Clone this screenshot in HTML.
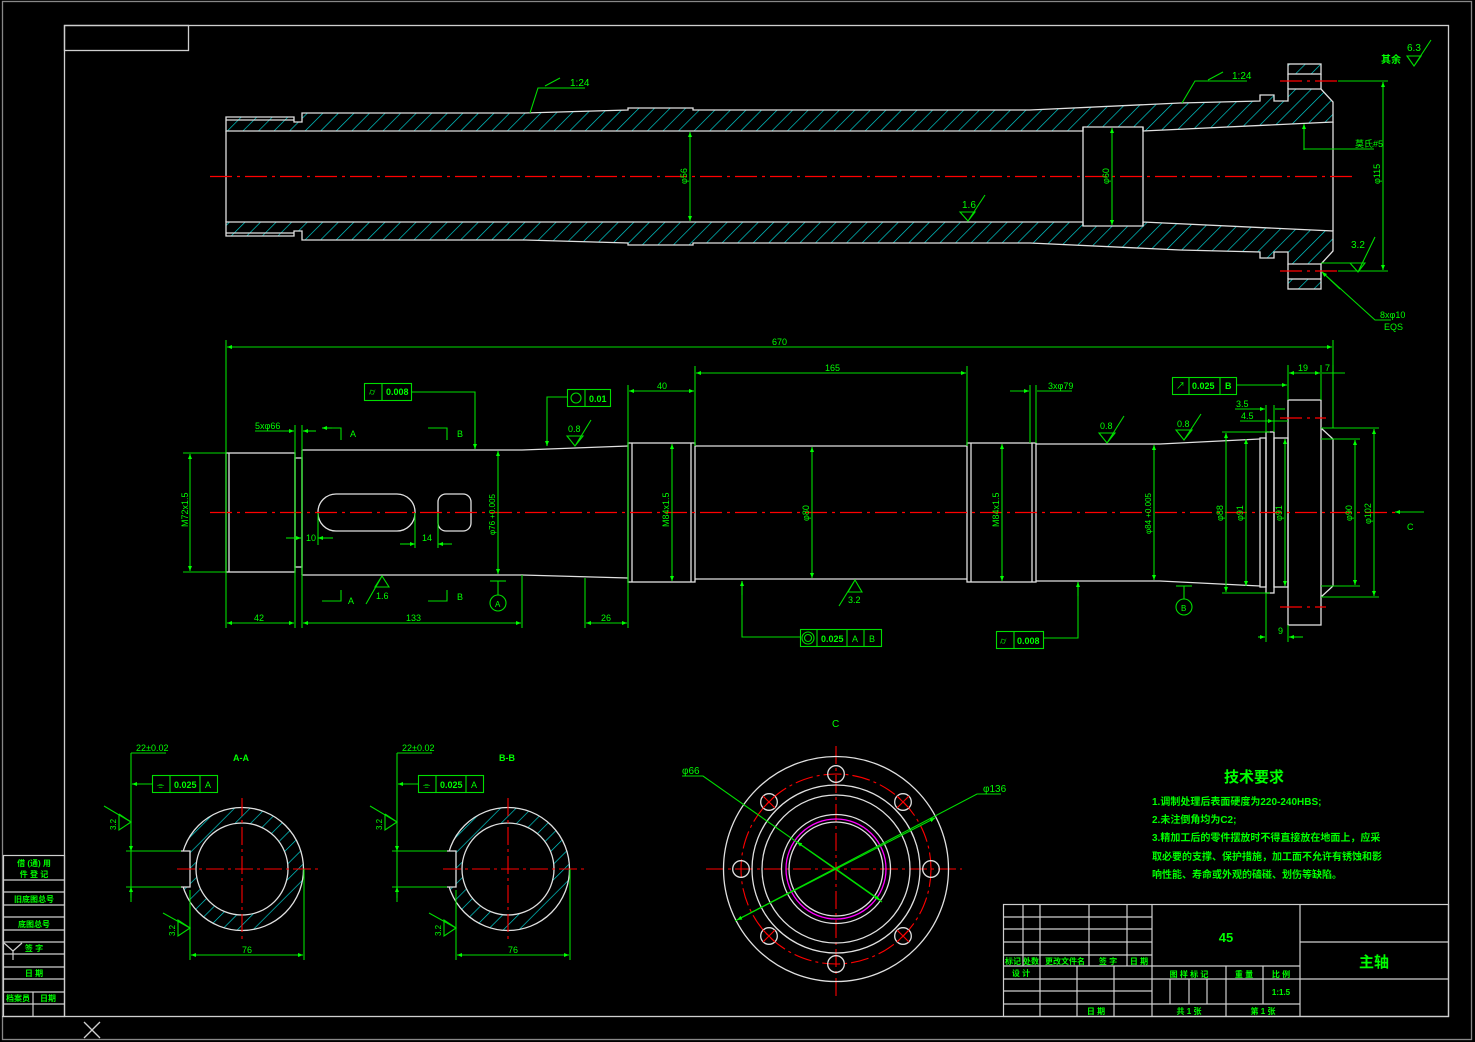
<!DOCTYPE html>
<html><head><meta charset="utf-8"><style>
html,body{margin:0;padding:0;background:#000;}
svg{display:block;}
text{font-family:"Liberation Sans","Noto Sans CJK SC",sans-serif;fill:#00ff00;}
</style></head><body>
<svg width="1475" height="1042" viewBox="0 0 1475 1042" xmlns="http://www.w3.org/2000/svg">
<defs>
<pattern id="h" patternUnits="userSpaceOnUse" width="11" height="11" patternTransform="rotate(45)">
<line x1="0" y1="0" x2="0" y2="11" stroke="#00d8d8" stroke-width="1.3"/>
</pattern>
<marker id="a" viewBox="0 0 10 10" refX="10" refY="5" markerWidth="9" markerHeight="5" orient="auto-start-reverse" markerUnits="userSpaceOnUse">
<path d="M0,1 L10,5 L0,9 z" fill="#00ff00"/></marker>
</defs>
<rect width="1475" height="1042" fill="#000"/>
<!-- frames -->
<g fill="none" stroke="#cfcfcf" stroke-width="1.3">
<rect x="2.5" y="1.5" width="1469" height="1038" stroke="#888"/>
<rect x="64.5" y="25.5" width="1384" height="991"/>
<rect x="64.5" y="25.5" width="124" height="25"/>
<line x1="2" y1="1016.5" x2="64" y2="1016.5"/>
<line x1="84" y1="1022" x2="100" y2="1038"/><line x1="100" y1="1022" x2="84" y2="1038"/>
</g>
<!-- left side table -->
<g stroke="#cfcfcf" stroke-width="1.2" fill="none">
<rect x="3.5" y="855.5" width="61" height="161"/>
<line x1="3" y1="880" x2="64" y2="880"/><line x1="3" y1="892" x2="64" y2="892"/>
<line x1="3" y1="905" x2="64" y2="905"/><line x1="3" y1="917" x2="64" y2="917"/>
<line x1="3" y1="930" x2="64" y2="930"/><line x1="3" y1="942" x2="64" y2="942"/>
<line x1="3" y1="954" x2="64" y2="954"/><line x1="3" y1="967" x2="64" y2="967"/>
<line x1="3" y1="979" x2="64" y2="979"/><line x1="3" y1="992" x2="64" y2="992"/>
<line x1="3" y1="1004" x2="64" y2="1004"/><line x1="33" y1="992" x2="33" y2="1016"/>
<line x1="4" y1="943" x2="13" y2="951"/><line x1="22" y1="943" x2="13" y2="951"/><line x1="13" y1="951" x2="13" y2="960"/>
</g>
<g font-size="8" text-anchor="middle" font-weight="bold">
<text x="34" y="866">借 (通) 用</text><text x="34" y="877">件 登 记</text>
<text x="34" y="902">旧底图总号</text><text x="34" y="927">底图总号</text>
<text x="34" y="951">签  字</text><text x="34" y="976">日  期</text>
<text x="18" y="1001">档案员</text><text x="48" y="1001">日期</text>
</g>

<!-- ================= TOP SECTION VIEW ================= -->
<g stroke="#e0e0e0" stroke-width="1.3">
<path d="M226,117 L294,117 L294,122 L302,122 L302,113 L525,113 L628,110 L628,108 L693,108 L693,110 L1030,110 L1180,103 L1260,101 L1260,95 L1274,95 L1274,101 L1288,101 L1288,89 L1321,89 L1333,102 L1333,122 L1143,131 L1143,127 L1083,127 L1083,131 L226,131 Z" fill="url(#h)"/>
<path d="M226,236 L294,236 L294,231 L302,231 L302,240 L525,240 L628,243 L628,245 L693,245 L693,243 L1030,243 L1180,250 L1260,252 L1260,258 L1274,258 L1274,252 L1288,252 L1288,264 L1321,264 L1333,251 L1333,231 L1143,222 L1143,226 L1083,226 L1083,222 L226,222 Z" fill="url(#h)"/>
<rect x="1288" y="64" width="33" height="10" fill="url(#h)"/>
<rect x="1288" y="279" width="33" height="10" fill="url(#h)"/>
<line x1="226" y1="131" x2="226" y2="222"/>
<line x1="1333" y1="122" x2="1333" y2="231"/>
<line x1="1083" y1="127" x2="1083" y2="226"/><line x1="1143" y1="127" x2="1143" y2="226"/>
<line x1="226" y1="120" x2="294" y2="120"/><line x1="226" y1="233" x2="294" y2="233"/>
<line x1="1288" y1="74" x2="1288" y2="89"/><line x1="1321" y1="74" x2="1321" y2="89"/>
<line x1="1288" y1="264" x2="1288" y2="279"/><line x1="1321" y1="264" x2="1321" y2="279"/>
</g>
<g stroke="#ff0000" stroke-width="1.2" stroke-dasharray="22,5,3,5">
<line x1="210" y1="176.5" x2="1352" y2="176.5"/>
<line x1="1280" y1="81" x2="1338" y2="81"/><line x1="1280" y1="271" x2="1338" y2="271"/>
</g>
<g stroke="#00dd00" stroke-width="1.1" fill="none">
<line x1="690" y1="132" x2="690" y2="221" marker-start="url(#a)" marker-end="url(#a)"/>
<line x1="1112" y1="128" x2="1112" y2="225" marker-start="url(#a)" marker-end="url(#a)"/>
<line x1="1338" y1="81" x2="1388" y2="81"/><line x1="1338" y1="271" x2="1388" y2="271"/>
<line x1="1383" y1="82" x2="1383" y2="270" marker-start="url(#a)" marker-end="url(#a)"/>
<path d="M530,113 L538,88 L585,88"/><path d="M545,86 L560,78"/>
<path d="M1182,103 L1195,81 L1247,81"/><path d="M1208,80 L1223,72"/>
<path d="M1304,150 L1304,149 L1332,149 L1374,149"/><line x1="1304" y1="150" x2="1304" y2="124" marker-end="url(#a)"/>
<path d="M1391,320 L1375,320 L1322,272"/><line x1="1340" y1="289" x2="1322" y2="272" marker-end="url(#a)"/>
<path d="M960,212 L975,212 L968,221 Z M968,221 L985,195"/>
<path d="M1350,263 L1365,263 L1358,272 Z M1358,272 L1375,237"/><line x1="1321" y1="263" x2="1350" y2="263"/>
<path d="M1407,56 L1421,56 L1414,66 Z M1414,66 L1431,40"/>
</g>
<g font-size="10">
<text x="570" y="86">1:24</text><text x="1232" y="79">1:24</text>
<text x="1355" y="147" font-size="9">莫氏#5</text>
<text x="1380" y="318" font-size="9">8xφ10</text><text x="1384" y="330" font-size="9">EQS</text>
<text x="962" y="208">1.6</text><text x="1351" y="248">3.2</text>
<text x="1407" y="51">6.3</text><text x="1381" y="63" font-size="10" font-weight="bold">其余</text>
<text transform="translate(687,184) rotate(-90)" font-size="9">φ56</text>
<text transform="translate(1109,184) rotate(-90)" font-size="9">φ60</text>
<text transform="translate(1380,184) rotate(-90)" font-size="9">φ115</text>
</g>

<!-- ================= MIDDLE ELEVATION ================= -->
<g stroke="#e0e0e0" stroke-width="1.3" fill="none">
<rect x="226" y="453" width="69" height="119"/><line x1="229" y1="453" x2="229" y2="572"/>
<rect x="295" y="458" width="7" height="109"/>
<path d="M302,450 L522,450 L628,446 M302,575 L522,575 L628,578"/>
<line x1="302" y1="450" x2="302" y2="575"/>
<rect x="628" y="443" width="67" height="139"/><line x1="632" y1="443" x2="632" y2="582"/><line x1="691" y1="443" x2="691" y2="582"/>
<path d="M695,446 L967,446 M695,579 L967,579"/>
<rect x="967" y="443" width="69" height="139"/><line x1="971" y1="443" x2="971" y2="582"/><line x1="1032" y1="443" x2="1032" y2="582"/>
<path d="M1036,444 L1160,444 L1260,439 M1036,581 L1160,581 L1260,586"/>
<rect x="1260" y="438" width="6" height="149"/>
<rect x="1266" y="432" width="8" height="161"/>
<rect x="1274" y="438" width="14" height="149"/>
<rect x="1288" y="400" width="33" height="225"/>
<path d="M1321,428 L1333,439 L1333,586 L1321,597"/>
<rect x="318" y="494" width="97" height="37" rx="18"/>
<rect x="438" y="494" width="33" height="37" rx="8"/>
</g>
<g stroke="#ff0000" stroke-width="1.2" stroke-dasharray="22,5,3,5">
<line x1="210" y1="512.5" x2="1395" y2="512.5"/>
<line x1="1280" y1="418" x2="1326" y2="418"/><line x1="1280" y1="607" x2="1326" y2="607"/>
</g>
<g stroke="#00dd00" stroke-width="1.1" fill="none">
<line x1="226" y1="340" x2="226" y2="628"/><line x1="1333" y1="340" x2="1333" y2="428"/>
<line x1="227" y1="347" x2="1332" y2="347" marker-start="url(#a)" marker-end="url(#a)"/>
<line x1="695" y1="366" x2="695" y2="446"/><line x1="967" y1="366" x2="967" y2="446"/>
<line x1="696" y1="373" x2="966" y2="373" marker-start="url(#a)" marker-end="url(#a)"/>
<line x1="628" y1="385" x2="628" y2="628"/>
<line x1="629" y1="391" x2="694" y2="391" marker-start="url(#a)" marker-end="url(#a)"/>
<line x1="1030" y1="385" x2="1030" y2="443"/><line x1="1036" y1="385" x2="1036" y2="443"/>
<path d="M1010,391 L1029,391" marker-end="url(#a)"/><path d="M1037,391 L1072,391"/>
<line x1="1288" y1="365" x2="1288" y2="400"/><line x1="1321" y1="365" x2="1321" y2="400"/><line x1="1333" y1="365" x2="1333" y2="380"/>
<line x1="1289" y1="373" x2="1320" y2="373" marker-start="url(#a)" marker-end="url(#a)"/>
<line x1="1322" y1="373" x2="1345" y2="373" />
<line x1="1266" y1="405" x2="1266" y2="432"/><line x1="1274" y1="405" x2="1274" y2="432"/>
<path d="M1235,409 L1265,409" marker-end="url(#a)"/><path d="M1275,409 L1285,409"/>
<path d="M1240,421 L1273,421" marker-end="url(#a)"/><path d="M1260,421 L1288,421"/>
<line x1="1266" y1="593" x2="1266" y2="642"/><line x1="1288" y1="625" x2="1288" y2="642"/>
<path d="M1258,637 L1265,637" marker-end="url(#a)"/><path d="M1289,637 L1303,637" marker-start="url(#a)"/>
<line x1="295" y1="425" x2="295" y2="628"/><line x1="302" y1="425" x2="302" y2="628"/>
<path d="M255,431 L294,431" marker-end="url(#a)"/><path d="M303,431 L316,431" marker-start="url(#a)"/>
<line x1="227" y1="623" x2="294" y2="623" marker-start="url(#a)" marker-end="url(#a)"/>
<line x1="522" y1="575" x2="522" y2="628"/>
<line x1="303" y1="623" x2="521" y2="623" marker-start="url(#a)" marker-end="url(#a)"/>
<line x1="585" y1="578" x2="585" y2="628"/>
<line x1="586" y1="623" x2="627" y2="623" marker-start="url(#a)" marker-end="url(#a)"/>
<line x1="183" y1="453" x2="226" y2="453"/><line x1="183" y1="572" x2="226" y2="572"/>
<line x1="190" y1="454" x2="190" y2="571" marker-start="url(#a)" marker-end="url(#a)"/>
<line x1="498" y1="451" x2="498" y2="574" marker-start="url(#a)" marker-end="url(#a)"/>
<line x1="812" y1="447" x2="812" y2="578" marker-start="url(#a)" marker-end="url(#a)"/>
<line x1="672" y1="444" x2="672" y2="581" marker-start="url(#a)" marker-end="url(#a)"/>
<line x1="1002" y1="444" x2="1002" y2="581" marker-start="url(#a)" marker-end="url(#a)"/>
<line x1="1154" y1="445" x2="1154" y2="580" marker-start="url(#a)" marker-end="url(#a)"/>
<line x1="1222" y1="432" x2="1270" y2="432"/><line x1="1222" y1="593" x2="1270" y2="593"/>
<line x1="1226" y1="433" x2="1226" y2="592" marker-start="url(#a)" marker-end="url(#a)"/>
<line x1="1246" y1="439" x2="1246" y2="586" marker-start="url(#a)" marker-end="url(#a)"/>
<line x1="1285" y1="439" x2="1285" y2="586" marker-start="url(#a)" marker-end="url(#a)"/>
<line x1="1321" y1="439" x2="1360" y2="439"/><line x1="1321" y1="586" x2="1360" y2="586"/>
<line x1="1355" y1="440" x2="1355" y2="585" marker-start="url(#a)" marker-end="url(#a)"/>
<line x1="1321" y1="428" x2="1379" y2="428"/><line x1="1321" y1="597" x2="1379" y2="597"/>
<line x1="1374" y1="429" x2="1374" y2="596" marker-start="url(#a)" marker-end="url(#a)"/>
<path d="M286,538 L301,538" marker-end="url(#a)"/><path d="M318,538 L333,538" marker-start="url(#a)"/><line x1="318" y1="513" x2="318" y2="545"/>
<path d="M400,544 L415,544" marker-end="url(#a)"/><path d="M438,544 L452,544" marker-start="url(#a)"/><line x1="415" y1="513" x2="415" y2="548"/><line x1="438" y1="513" x2="438" y2="548"/>
<path d="M322,428 L341,428 L341,440" /><line x1="332" y1="428" x2="322" y2="428" marker-end="url(#a)"/>
<path d="M428,428 L447,428 L447,440"/>
<path d="M322,601 L341,601 L341,590"/><path d="M428,601 L447,601 L447,590"/>
<circle cx="498" cy="603" r="8"/><line x1="498" y1="595" x2="498" y2="581"/><line x1="490" y1="581" x2="506" y2="581"/>
<circle cx="1184" cy="607" r="8"/><line x1="1184" y1="599" x2="1184" y2="586"/><line x1="1176" y1="586" x2="1192" y2="586"/>
<rect x="364.5" y="383.5" width="47" height="17"/><line x1="382" y1="383" x2="382" y2="400"/>
<path d="M411,392 L475,392 L475,449" /><line x1="475" y1="420" x2="475" y2="449" marker-end="url(#a)"/>
<rect x="567.5" y="389.5" width="43" height="17"/><line x1="585" y1="389" x2="585" y2="406"/>
<circle cx="576" cy="398" r="5"/>
<path d="M567,397 L547,397 L547,446"/><line x1="547" y1="430" x2="547" y2="446" marker-end="url(#a)"/>
<rect x="1172.5" y="377.5" width="64" height="17"/><line x1="1189" y1="377" x2="1189" y2="394"/><line x1="1220" y1="377" x2="1220" y2="394"/>
<path d="M1236,385 L1287,385" marker-end="url(#a)"/>
<rect x="800.5" y="629.5" width="81" height="17"/><line x1="817" y1="629" x2="817" y2="646"/><line x1="847" y1="629" x2="847" y2="646"/><line x1="864" y1="629" x2="864" y2="646"/>
<circle cx="808" cy="638" r="6"/><circle cx="808" cy="638" r="3.5"/>
<path d="M800,637 L742,637 L742,581"/><line x1="742" y1="595" x2="742" y2="581" marker-end="url(#a)"/>
<rect x="996.5" y="631.5" width="47" height="17"/><line x1="1014" y1="631" x2="1014" y2="648"/>
<path d="M1043,638 L1078,638 L1078,582"/><line x1="1078" y1="596" x2="1078" y2="582" marker-end="url(#a)"/>
<path d="M567,436 L583,436 L575,446 Z M575,446 L591,420"/>
<path d="M1099,433 L1115,433 L1107,443 Z M1107,443 L1124,416"/>
<path d="M1176,430 L1192,430 L1184,440 Z M1184,440 L1201,414"/>
<path d="M375,587 L389,587 L382,576 Z M382,576 L366,604"/>
<path d="M848,592 L862,592 L855,580 Z M855,580 L839,606"/>
<line x1="1395" y1="512" x2="1424" y2="512"/><line x1="1422" y1="512" x2="1395" y2="512" marker-end="url(#a)"/>
</g>
<g font-size="9">
<text x="772" y="345">670</text><text x="825" y="371">165</text><text x="657" y="389">40</text>
<text x="1048" y="389">3xφ79</text><text x="1298" y="371">19</text><text x="1325" y="371">7</text>
<text x="1236" y="407">3.5</text><text x="1241" y="419">4.5</text><text x="1278" y="634">9</text>
<text x="255" y="429">5xφ66</text><text x="254" y="621">42</text><text x="406" y="621">133</text><text x="601" y="621">26</text>
<text x="306" y="541">10</text><text x="422" y="541">14</text>
<text x="350" y="437">A</text><text x="457" y="437">B</text><text x="348" y="604">A</text><text x="457" y="600">B</text>
<text x="495" y="607" font-size="8">A</text><text x="1181" y="611" font-size="8">B</text>
<text x="386" y="395" font-weight="bold">0.008</text><text x="369" y="395">⌭</text>
<text x="589" y="402" font-weight="bold">0.01</text>
<text x="1176" y="389">↗</text><text x="1192" y="389" font-weight="bold">0.025</text><text x="1225" y="389" font-weight="bold">B</text>
<text x="821" y="642" font-weight="bold">0.025</text><text x="852" y="642">A</text><text x="869" y="642">B</text>
<text x="1000" y="644">⌭</text><text x="1017" y="644" font-weight="bold">0.008</text>
<text x="568" y="432">0.8</text><text x="1100" y="429">0.8</text><text x="1177" y="427">0.8</text>
<text x="376" y="599">1.6</text><text x="848" y="603">3.2</text>
<text x="1407" y="530">C</text>
<text transform="translate(188,527) rotate(-90)">M72x1.5</text>
<text transform="translate(495,535) rotate(-90)" font-size="8">φ76 +0.005</text>
<text transform="translate(809,521) rotate(-90)">φ80</text>
<text transform="translate(669,527) rotate(-90)">M84x1.5</text>
<text transform="translate(999,527) rotate(-90)">M84x1.5</text>
<text transform="translate(1151,534) rotate(-90)" font-size="8">φ84 +0.005</text>
<text transform="translate(1223,521) rotate(-90)">φ88</text>
<text transform="translate(1243,521) rotate(-90)">φ91</text>
<text transform="translate(1282,521) rotate(-90)">φ91</text>
<text transform="translate(1352,521) rotate(-90)">φ90</text>
<text transform="translate(1371,524) rotate(-90)">φ102</text>
</g>

<!-- ================= SECTIONS A-A / B-B ================= -->
<g id="secA">
<path d="M242,807.5 a61.5,61.5 0 1,1 0,123 a61.5,61.5 0 1,1 0,-123 Z M242,823 a46,46 0 1,0 0,92 a46,46 0 1,0 0,-92 Z" fill="url(#h)" fill-rule="evenodd" stroke="#e0e0e0" stroke-width="1.3"/>
<rect x="128" y="851" width="62" height="36" fill="#000"/>
<g stroke="#e0e0e0" stroke-width="1.3" fill="none"><path d="M181,851 L190,851 L190,887 L181,887"/></g>
<g stroke="#ff0000" stroke-width="1.1" stroke-dasharray="18,4,3,4"><line x1="177" y1="869" x2="318" y2="869"/><line x1="242" y1="798" x2="242" y2="941"/></g>
<g stroke="#00dd00" stroke-width="1.1" fill="none">
<line x1="126" y1="851" x2="181" y2="851"/><line x1="126" y1="887" x2="181" y2="887"/>
<line x1="131" y1="753" x2="166" y2="753"/><line x1="131" y1="753" x2="131" y2="902"/>
<line x1="131" y1="840" x2="131" y2="851" marker-end="url(#a)"/><line x1="131" y1="898" x2="131" y2="887" marker-end="url(#a)"/>
<rect x="152.5" y="775.5" width="65" height="17"/><line x1="170" y1="775" x2="170" y2="792"/><line x1="200" y1="775" x2="200" y2="792"/>
<line x1="152" y1="784" x2="132" y2="784" marker-end="url(#a)"/>
<path d="M104,806 L131,822 L119,830 L119,814 M119,814 L131,822"/>
<path d="M163,913 L190,928 L178,936 L178,920 L190,928"/>
<line x1="190" y1="890" x2="190" y2="960"/><line x1="304" y1="869" x2="304" y2="960"/>
<line x1="191" y1="955" x2="303" y2="955" marker-start="url(#a)" marker-end="url(#a)"/>
</g>
</g>
<use href="#secA" x="266"/>
<g font-size="9">
<text x="136" y="751">22±0.02</text><text x="233" y="761" font-weight="bold">A-A</text>
<text x="157" y="788">⌯</text><text x="174" y="788" font-weight="bold">0.025</text><text x="205" y="788">A</text>
<text transform="translate(116,830) rotate(-90)" font-size="8">3.2</text>
<text transform="translate(175,936) rotate(-90)" font-size="8">3.2</text>
<text x="242" y="953">76</text>
<text x="402" y="751">22±0.02</text><text x="499" y="761" font-weight="bold">B-B</text>
<text x="423" y="788">⌯</text><text x="440" y="788" font-weight="bold">0.025</text><text x="471" y="788">A</text>
<text transform="translate(382,830) rotate(-90)" font-size="8">3.2</text>
<text transform="translate(441,936) rotate(-90)" font-size="8">3.2</text>
<text x="508" y="953">76</text>
</g>

<!-- ================= VIEW C ================= -->
<g fill="none" stroke-width="1.3">
<g stroke="#ff0000" stroke-dasharray="18,4,3,4" stroke-width="1.1">
<line x1="706" y1="869" x2="962" y2="869"/><line x1="836" y1="746" x2="836" y2="996"/>
<circle cx="836" cy="869" r="95"/>
</g>
<g stroke="#e0e0e0">
<circle cx="836" cy="869" r="112.5"/><circle cx="836" cy="869" r="84"/><circle cx="836" cy="869" r="74"/>
<circle cx="836" cy="869" r="54.5"/><circle cx="836" cy="869" r="47"/>
<circle cx="836" cy="774" r="8.3"/><circle cx="836" cy="964" r="8.3"/><circle cx="741" cy="869" r="8.3"/><circle cx="931" cy="869" r="8.3"/>
<circle cx="769" cy="802" r="8.3"/><circle cx="903" cy="802" r="8.3"/><circle cx="769" cy="936" r="8.3"/><circle cx="903" cy="936" r="8.3"/>
</g>
<circle cx="836" cy="869" r="50" stroke="#ff00ff"/>
<g stroke="#ff0000" stroke-width="1.1">
<path d="M763,796 l12,12 M775,796 l-12,12 M897,796 l12,12 M909,796 l-12,12 M763,930 l12,12 M775,930 l-12,12 M897,930 l12,12 M909,930 l-12,12"/>
</g>
<g stroke="#00dd00" stroke-width="1.1">
<path d="M682,776 L703,776 L882,902"/><line x1="836" y1="869" x2="880" y2="900" marker-end="url(#a)"/>
<line x1="836" y1="869" x2="797" y2="842" marker-end="url(#a)"/>
<path d="M1001,794 L977,794 L735,921"/><line x1="836" y1="869" x2="737" y2="920" marker-end="url(#a)"/>
<line x1="836" y1="869" x2="935" y2="818" marker-end="url(#a)"/>
</g>
</g>
<g font-size="10"><text x="832" y="727">C</text><text x="682" y="774">φ66</text><text x="983" y="792">φ136</text></g>

<!-- ================= TECH REQ ================= -->
<g font-weight="bold">
<text x="1224" y="782" font-size="15">技术要求</text>
<g font-size="10">
<text x="1152" y="805">1.调制处理后表面硬度为220-240HBS;</text>
<text x="1152" y="823">2.未注倒角均为C2;</text>
<text x="1152" y="841">3.精加工后的零件摆放时不得直接放在地面上，应采</text>
<text x="1152" y="860">取必要的支撑、保护措施，加工面不允许有锈蚀和影</text>
<text x="1152" y="878">响性能、寿命或外观的磕碰、划伤等缺陷。</text>
</g></g>

<!-- ================= TITLE BLOCK ================= -->
<g stroke="#cfcfcf" stroke-width="1.2" fill="none">
<rect x="1003.5" y="904.5" width="445" height="112"/>
<line x1="1152" y1="904" x2="1152" y2="1017"/><line x1="1300" y1="904" x2="1300" y2="1017"/>
<path d="M1003,917 H1152 M1003,929 H1152 M1003,942 H1152 M1003,955 H1152 M1003,966 H1300 M1003,979 H1300 M1003,991 H1152 M1003,1004 H1300"/>
<path d="M1023,904 V966 M1040,904 V1017 M1089,904 V966 M1127,904 V966 M1077,966 V1017 M1114,966 V1017"/>
<path d="M1226,966 V1017 M1263,966 V1004 M1170,979 V1004 M1189,979 V1004 M1207,979 V1004"/>
<path d="M1300,942 H1449 M1300,979 H1449"/>
</g>
<g font-size="8" font-weight="bold" text-anchor="middle">
<text x="1013" y="964">标记</text><text x="1031" y="964">处数</text><text x="1065" y="964">更改文件名</text>
<text x="1108" y="964">签 字</text><text x="1139" y="964">日 期</text>
<text x="1021" y="976">设 计</text><text x="1096" y="1014">日 期</text>
<text x="1189" y="977">图 样 标 记</text><text x="1244" y="977">重 量</text><text x="1281" y="977">比 例</text>
<text x="1281" y="995">1:1.5</text>
<text x="1189" y="1014">共 1 张</text><text x="1263" y="1014">第 1 张</text>
<text x="1226" y="942" font-size="13">45</text>
<text x="1374" y="967" font-size="15">主轴</text>
</g>
</svg>
</body></html>
